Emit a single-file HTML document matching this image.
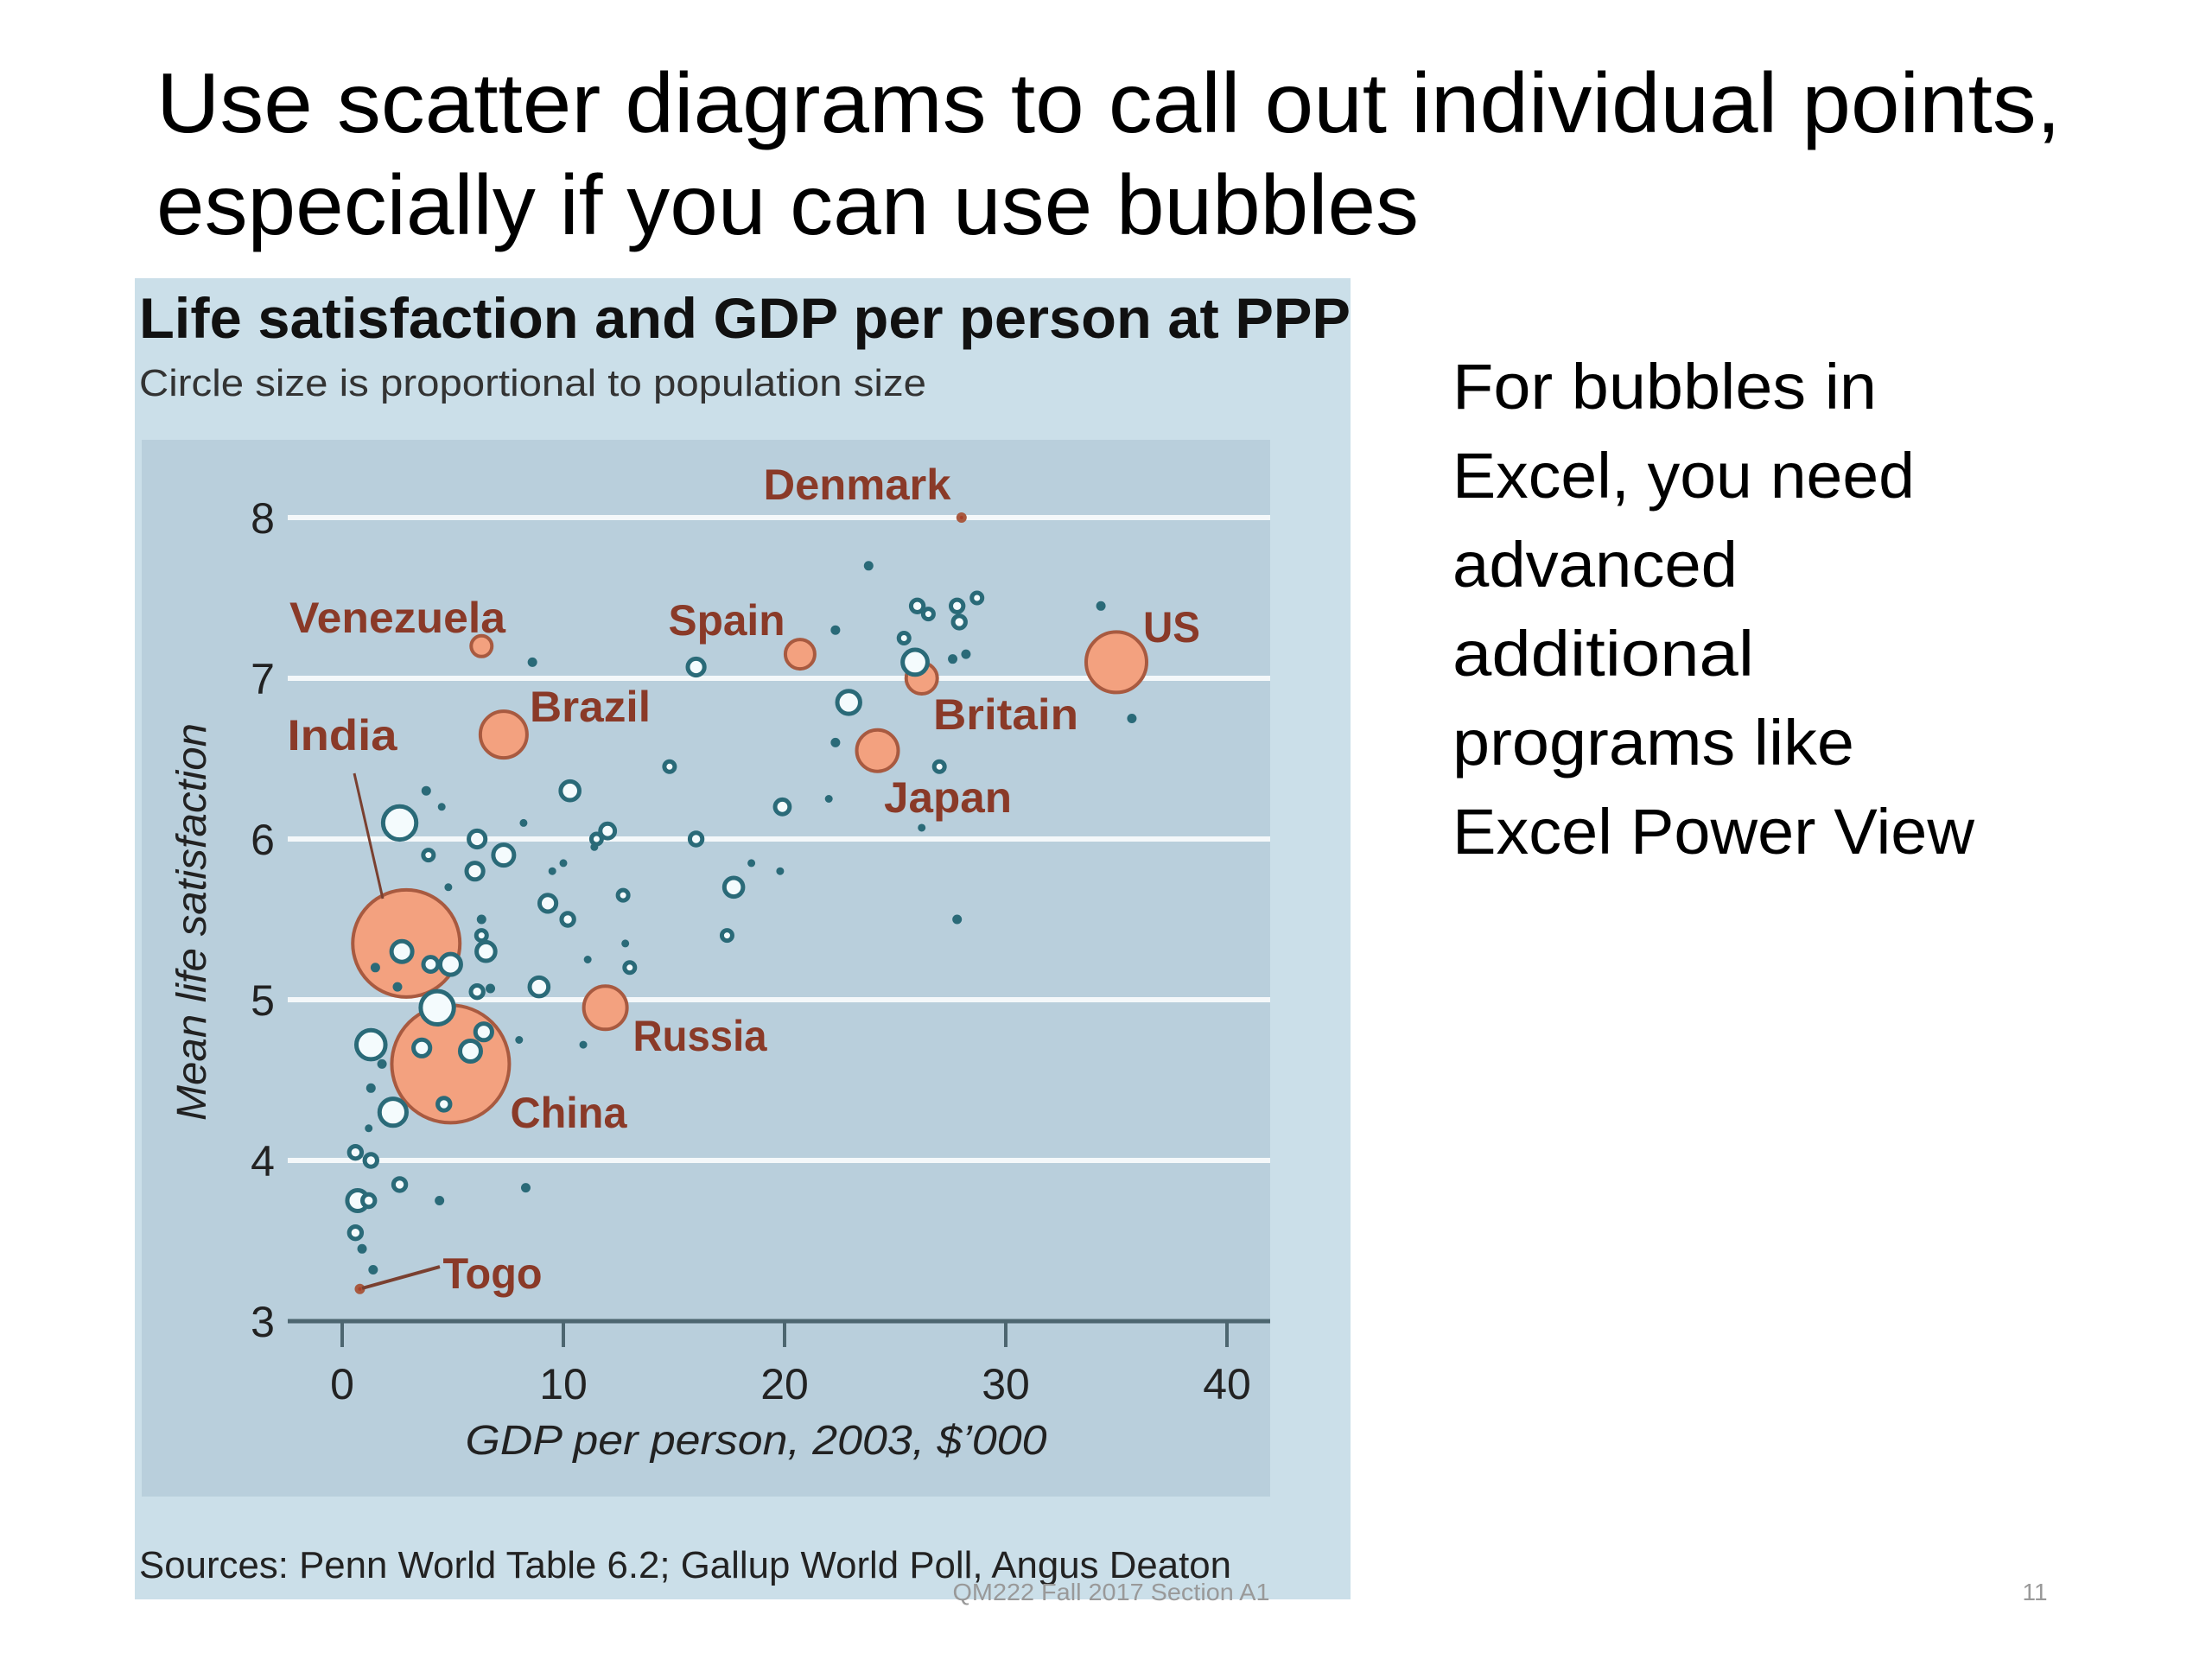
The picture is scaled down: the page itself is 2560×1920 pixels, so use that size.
<!DOCTYPE html>
<html><head><meta charset="utf-8"><style>
html,body{margin:0;padding:0;background:#fff;}
svg{display:block;font-family:"Liberation Sans",sans-serif;}
</style></head><body>
<svg id="svg" width="2560" height="1920" viewBox="0 0 2560 1920" xmlns="http://www.w3.org/2000/svg">
<text x="181" y="153" font-size="98" fill="#000" textLength="2204" lengthAdjust="spacingAndGlyphs">Use scatter diagrams to call out individual points,</text>
<text x="181" y="271" font-size="98" fill="#000" textLength="1461" lengthAdjust="spacingAndGlyphs">especially if you can use bubbles</text>
<g font-size="74" fill="#000">
<text x="1681" y="473" textLength="491" lengthAdjust="spacingAndGlyphs">For bubbles in</text>
<text x="1681" y="576" textLength="535" lengthAdjust="spacingAndGlyphs">Excel, you need</text>
<text x="1681" y="679" textLength="330" lengthAdjust="spacingAndGlyphs">advanced</text>
<text x="1681" y="782" textLength="349" lengthAdjust="spacingAndGlyphs">additional</text>
<text x="1681" y="885" textLength="465" lengthAdjust="spacingAndGlyphs">programs like</text>
<text x="1681" y="988" textLength="604" lengthAdjust="spacingAndGlyphs">Excel Power View</text>
</g>
<rect x="156" y="322" width="1407" height="1529" fill="#cbdfe9"/>
<text x="161" y="391" font-size="66" font-weight="bold" fill="#111" textLength="1402" lengthAdjust="spacingAndGlyphs">Life satisfaction and GDP per person at PPP</text>
<text x="161" y="458" font-size="44" fill="#333" textLength="911" lengthAdjust="spacingAndGlyphs">Circle size is proportional to population size</text>
<rect x="164" y="509" width="1306" height="1223" fill="#b9cfdc"/>
<g id="grid"></g>
<g id="axes"></g>
<g id="marks"></g>
<g font-weight="bold" font-size="50" fill="#8a3a28">
<line x1="410" y1="895" x2="443" y2="1040" stroke="#7a4030" stroke-width="3"/>
<line x1="419" y1="1491" x2="509" y2="1466" stroke="#7a4030" stroke-width="4"/>
<text x="992" y="578" text-anchor="middle" textLength="217" lengthAdjust="spacingAndGlyphs">Denmark</text>
<text x="460" y="732" text-anchor="middle" textLength="250" lengthAdjust="spacingAndGlyphs">Venezuela</text>
<text x="841" y="735" text-anchor="middle" textLength="135" lengthAdjust="spacingAndGlyphs">Spain</text>
<text x="1356" y="743" text-anchor="middle" textLength="66" lengthAdjust="spacingAndGlyphs">US</text>
<text x="683" y="835" text-anchor="middle" textLength="140" lengthAdjust="spacingAndGlyphs">Brazil</text>
<text x="396" y="868" text-anchor="middle" textLength="127" lengthAdjust="spacingAndGlyphs">India</text>
<text x="1164" y="844" text-anchor="middle" textLength="168" lengthAdjust="spacingAndGlyphs">Britain</text>
<text x="1097" y="940" text-anchor="middle" textLength="148" lengthAdjust="spacingAndGlyphs">Japan</text>
<text x="810" y="1216" text-anchor="middle" textLength="155" lengthAdjust="spacingAndGlyphs">Russia</text>
<text x="658" y="1305" text-anchor="middle" textLength="135" lengthAdjust="spacingAndGlyphs">China</text>
<text x="570" y="1491" text-anchor="middle" textLength="115" lengthAdjust="spacingAndGlyphs">Togo</text>
</g>
<text x="875" y="1683" text-anchor="middle" font-size="48" font-style="italic" fill="#222" textLength="673" lengthAdjust="spacingAndGlyphs">GDP per person, 2003, $’000</text>
<text transform="translate(238,1067) rotate(-90)" text-anchor="middle" font-size="48" font-style="italic" fill="#222" textLength="460" lengthAdjust="spacingAndGlyphs">Mean life satisfaction</text>
<text x="161" y="1826" font-size="44" fill="#222" textLength="1264" lengthAdjust="spacingAndGlyphs">Sources: Penn World Table 6.2; Gallup World Poll, Angus Deaton</text>
<text x="1286" y="1852" text-anchor="middle" font-size="28" fill="#999" textLength="367" lengthAdjust="spacingAndGlyphs">QM222 Fall 2017 Section A1</text>
<text x="2355" y="1852" text-anchor="middle" font-size="28" fill="#999">11</text>
</svg>
<script>
const xTicks = [0, 10, 20, 30, 40];
const yTicks = [3, 4, 5, 6, 7, 8];
const bgX = [23.8,22.3,25.4,26,26.5,27.8,27.9,28.7,34.3,25.9,27.6,28.2,8.6,16,22.9,35.7,22.3,27,14.8,10.3,19.9,22,26.2,16,2.6,3.8,4.5,6.1,7.3,6,3.9,8.2,12,11.5,11.4,9.5,10,4.8,17.7,18.5,19.8,27.8,9.3,10.2,12.7,17.4,6.3,6.3,2.7,4,4.9,6.5,12.8,11.1,13,8.9,6.1,6.7,1.5,2.5,4.3,8,10.9,1.3,3.6,5.8,6.4,1.8,1.3,2.3,4.6,1.2,0.6,1.3,2.6,8.3,4.4,0.7,1.2,0.6,0.9,1.4];
const bgY = [7.7,7.3,7.25,7.45,7.4,7.45,7.35,7.5,7.45,7.1,7.12,7.15,7.1,7.07,6.85,6.75,6.6,6.45,6.45,6.3,6.2,6.25,6.07,6.0,6.1,6.3,6.2,6.0,5.9,5.8,5.9,6.1,6.05,6.0,5.95,5.8,5.85,5.7,5.7,5.85,5.8,5.5,5.6,5.5,5.65,5.4,5.5,5.4,5.3,5.22,5.22,5.3,5.35,5.25,5.2,5.08,5.05,5.07,5.2,5.08,4.95,4.75,4.72,4.72,4.7,4.68,4.8,4.6,4.45,4.3,4.35,4.2,4.05,4.0,3.85,3.83,3.75,3.75,3.75,3.55,3.45,3.32];
const bgSize = [4,4,5,6,5,6,6,5,4,12,4,4,4,8,11,4,4,5,5,9,7,3,3,6,16,4,3,8,10,8,5,3,7,5,3,3,3,3,9,3,3,4,8,6,5,5,4,5,10,7,10,9,3,3,5,9,6,4,4,4,16,3,3,14,8,10,8,4,4,13,6,3,6,6,6,4,4,10,6,6,4,4];
const hlNames = ["Denmark","Venezuela","Spain","US","Britain","Brazil","Japan","India","China","Russia","Togo"];
const hlX = [28,6.3,20.7,35,26.2,7.3,24.2,2.9,4.9,11.9,0.8];
const hlY = [8.0,7.2,7.15,7.1,7.0,6.65,6.55,5.35,4.6,4.95,3.2];
const hlSize = [4,12,17,35,18,27,24,62,68,25,4];

const NS = "http://www.w3.org/2000/svg";
function sx(v){ return 396 + (v - 0) * 25.6; }
function sy(v){ return 1529 - (v - 3) * 186; }
function mk(tag, attrs){ const e = document.createElementNS(NS, tag); for (const k in attrs) e.setAttribute(k, attrs[k]); return e; }
const grid = document.getElementById('grid');
const axes = document.getElementById('axes');
const marks = document.getElementById('marks');

yTicks.forEach(t => {
  if (t > 3) {
    const l = mk('line', {x1: 333, x2: 1470, y1: sy(t), y2: sy(t), stroke: '#f4f8fa', 'stroke-width': 6});
    
    
    grid.appendChild(l);
  }
  const tx = mk('text', {x: 304, y: sy(t) + 18, 'text-anchor': 'middle', 'font-size': 50, fill: '#222'});
  tx.textContent = t;
  
  
  axes.appendChild(tx);
});
const ax = mk('line', {x1: 333, x2: 1470, y1: sy(3), y2: sy(3), stroke: '#4d6670', 'stroke-width': 5});


axes.appendChild(ax);
xTicks.forEach(t => {
  const l = mk('line', {x1: sx(t), x2: sx(t), y1: sy(3), y2: sy(3) + 30, stroke: '#4d6670', 'stroke-width': 4});
  
  
  axes.appendChild(l);
  const tx = mk('text', {x: sx(t), y: 1619, 'text-anchor': 'middle', 'font-size': 50, fill: '#222'});
  tx.textContent = t;
  
  
  axes.appendChild(tx);
});
hlNames.forEach((n, i) => {
  const c = mk('circle', {cx: sx(hlX[i]), cy: sy(hlY[i]), r: hlSize[i], fill: hlSize[i] > 5 ? '#f3a17f' : '#a8402a', stroke: '#a85a40', 'stroke-width': 4});
  
  
  marks.appendChild(c);
});
bgX.forEach((x, i) => {
  const r = bgSize[i];
  const c = mk('circle', {cx: sx(x), cy: sy(bgY[i]), r: r <= 4 ? r + 1 : r * 1.2, fill: r <= 4 ? '#2a6a78' : '#f4fbfd', stroke: '#2a6a78', 'stroke-width': r <= 4 ? 1 : 5});
  
  
  marks.appendChild(c);
});
</script>
</body></html>
